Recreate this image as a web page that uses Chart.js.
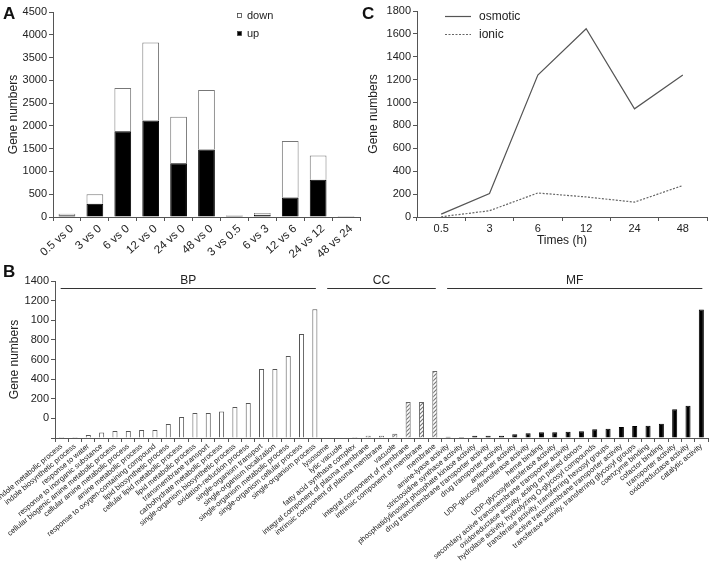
<!DOCTYPE html>
<html><head><meta charset="utf-8">
<script src="https://cdn.jsdelivr.net/npm/chart.js@4/dist/chart.umd.min.js"></script>
<style>
html,body{margin:0;padding:0;background:#fff;width:709px;height:562px;overflow:hidden;position:relative;font-family:"Liberation Sans",Arial,sans-serif;}
canvas{position:absolute;}
.lbl{position:absolute;font-weight:bold;font-size:17px;line-height:1;color:#111;}
</style></head><body>
<canvas id="ca" width="362" height="262" style="left:0;top:0"></canvas>
<canvas id="cc" width="354" height="252" style="left:355px;top:0"></canvas>
<canvas id="cb" width="709" height="300" style="left:0;top:262px"></canvas>
<div class="lbl" style="left:3px;top:5px">A</div>
<div class="lbl" style="left:3px;top:263px">B</div>
<div class="lbl" style="left:362px;top:5px">C</div>
<script>
// ---------- Panel A data ----------
const aCategories = ['0.5 vs 0','3 vs 0','6 vs 0','12 vs 0','24 vs 0','48 vs 0','3 vs 0.5','6 vs 3','12 vs 6','24 vs 12','48 vs 24'];
const aUp   = [40, 290, 1880, 2120, 1180, 1480, 30, 50, 430, 820, 5];
const aDown = [30, 210, 950, 1710, 1020, 1310, 10, 40, 1240, 530, 10];

// ---------- Panel C data ----------
const cTimes   = ['0.5','3','6','12','24','48'];
const cOsmotic = [25, 205, 1240, 1645, 945, 1240];
const cIonic   = [2, 55, 210, 175, 130, 275];

// ---------- Panel B data ----------
const bTerms = [
 'indole metabolic process','indole biosynthetic process','response to water','response to inorganic substance',
 'cellular biogenic amine metabolic process','cellular amine metabolic process','amine metabolic process',
 'response to oxygen-containing compound','lipid biosynthetic process','cellular lipid metabolic process',
 'lipid metabolic process','transmembrane transport','carbohydrate metabolic process',
 'single-organism biosynthetic process','oxidation-reduction process','single-organism transport',
 'single-organism localization','single-organism metabolic process','single-organism cellular process',
 'single-organism process',
 'lysosome','lytic vacuole','fatty acid synthase complex','integral component of plasma membrane',
 'intrinsic component of plasma membrane','vacuole','integral component of membrane',
 'intrinsic component of membrane','membrane',
 'amine-lyase activity','strictosidine synthase activity','phosphatidylinositol phosphate kinase activity',
 'drug transmembrane transporter activity','drug transporter activity','antiporter activity',
 'UDP-glucosyltransferase activity','heme binding','UDP-glycosyltransferase activity',
 'secondary active transmembrane transporter activity','oxidoreductase activity, acting on paired donors',
 'hydrolase activity, hydrolyzing O-glycosyl compounds','transferase activity, transferring hexosyl groups',
 'active transmembrane transporter activity','transferase activity, transferring glycosyl groups',
 'coenzyme binding','cofactor binding','transporter activity','oxidoreductase activity','catalytic activity'
];
const bCounts = [
 10, 10, 30, 57, 71, 71, 82, 82, 143, 214, 255, 255, 271, 316, 357, 704, 704, 836, 1061, 1312,
 5, 5, 10, 24, 24, 44, 367, 367, 683,
 13, 10, 24, 24, 24, 38, 48, 58, 58, 64, 68, 89, 95, 112, 122, 125, 146, 293, 329, 1310
];
const bGroupNames = ['BP','CC','MF'];
const bGroupStart = [0, 20, 29];
const bGroupEnd   = [19, 28, 48];
const bYTickLabels = ['', '0', '200', '400', '600', '800', '100', '1200', '1400'];

// ---------- styling ----------
const FONT = '"Liberation Sans", Arial, sans-serif';
Chart.defaults.font.family = FONT;
Chart.defaults.color = '#222';
const AX = '#555';
const plain = v => String(v);

function hatchPattern(){
  const c = document.createElement('canvas'); c.width = 4; c.height = 4;
  const g = c.getContext('2d');
  g.fillStyle = '#fff'; g.fillRect(0,0,4,4);
  g.strokeStyle = '#777'; g.lineWidth = 1.1;
  g.beginPath();
  g.moveTo(0,4); g.lineTo(4,0);
  g.moveTo(-1,1); g.lineTo(1,-1);
  g.moveTo(3,5); g.lineTo(5,3);
  g.stroke();
  return g.createPattern(c,'repeat');
}

function groupOf(i){
  for (let g = 0; g < bGroupNames.length; g++) if (i >= bGroupStart[g] && i <= bGroupEnd[g]) return g;
  return 0;
}

// ---------- Panel A ----------
const legendA = {
  id:'legendA',
  afterDraw(chart){
    const ctx = chart.ctx;
    const ds = chart.data.datasets.slice().reverse();
    ctx.save();
    ctx.font = '11px ' + FONT;
    ctx.textBaseline = 'middle';
    ds.forEach((d, k) => {
      const y = 16 + k * 18;
      ctx.fillStyle = d.backgroundColor;
      ctx.fillRect(237.5, y - 2.5, 4, 4);
      ctx.strokeStyle = '#444'; ctx.lineWidth = 0.8;
      ctx.strokeRect(237.5, y - 2.5, 4, 4);
      ctx.fillStyle = '#222';
      ctx.fillText(d.label, 247, y);
    });
    ctx.restore();
  }
};

new Chart(document.getElementById('ca'), {
  type:'bar',
  data:{labels:aCategories, datasets:[
    {label:'up', data:aUp, backgroundColor:'#000', borderColor:'#000', borderWidth:1},
    {label:'down', data:aDown, backgroundColor:'#fff', borderColor:'#777', borderWidth:1}
  ]},
  options:{
    responsive:false, animation:false, events:[],
    layout:{padding:{top:12, right:2, left:0, bottom:0}},
    plugins:{legend:{display:false}, tooltip:{enabled:false}},
    datasets:{bar:{categoryPercentage:1, barPercentage:0.6}},
    scales:{
      x:{stacked:true,
         grid:{display:true, drawOnChartArea:false, tickLength:4, color:AX, offset:true},
         border:{color:AX},
         ticks:{font:{size:11.5}, minRotation:42, maxRotation:42, autoSkip:false, padding:1, labelOffset:5},
         afterFit(s){ s.height = 45; s.paddingLeft = 0; s.paddingRight = 0; }},
      y:{stacked:true, min:0, max:4500,
         ticks:{stepSize:500, font:{size:11}, padding:2, callback:plain},
         grid:{drawOnChartArea:false, tickLength:4, color:AX},
         border:{color:AX},
         title:{display:true, text:'Gene numbers', font:{size:12}, padding:{top:6, bottom:0}},
         afterFit(s){ s.width = 53; }}
    }
  },
  plugins:[legendA]
});

// ---------- Panel C ----------
const legendC = {
  id:'legendC',
  afterDraw(chart){
    const ctx = chart.ctx;
    ctx.save();
    ctx.font = '12px ' + FONT;
    ctx.textBaseline = 'middle';
    chart.data.datasets.forEach((d, k) => {
      const y = 16.5 + k * 18;
      ctx.strokeStyle = d.borderColor; ctx.lineWidth = d.borderWidth;
      ctx.setLineDash(d.borderDash || []);
      ctx.beginPath(); ctx.moveTo(90, y); ctx.lineTo(116, y); ctx.stroke();
      ctx.setLineDash([]);
      ctx.fillStyle = '#222';
      ctx.fillText(d.label, 124, y);
    });
    ctx.restore();
  }
};

new Chart(document.getElementById('cc'), {
  type:'line',
  data:{labels:cTimes, datasets:[
    {label:'osmotic', data:cOsmotic, borderColor:'#555', borderWidth:1.2, pointRadius:0, tension:0, fill:false},
    {label:'ionic', data:cIonic, borderColor:'#666', borderWidth:1.2, borderDash:[2,1.5], pointRadius:0, tension:0, fill:false}
  ]},
  options:{
    responsive:false, animation:false, events:[],
    layout:{padding:{top:11, right:2, left:0, bottom:0}},
    plugins:{legend:{display:false}, tooltip:{enabled:false}},
    scales:{
      x:{type:'category', offset:true,
         grid:{display:true, drawOnChartArea:false, tickLength:4, color:AX, offset:true},
         border:{color:AX},
         ticks:{font:{size:11}, maxRotation:0, autoSkip:false, padding:1},
         title:{display:true, text:'Times (h)', font:{size:12}, padding:{top:0, bottom:4}},
         afterFit(s){ s.height = 35; s.paddingLeft = 0; s.paddingRight = 0; }},
      y:{min:0, max:1800,
         ticks:{stepSize:200, font:{size:11}, padding:2, callback:plain},
         grid:{drawOnChartArea:false, tickLength:4, color:AX},
         border:{color:AX},
         title:{display:true, text:'Gene numbers', font:{size:12}, padding:{top:11, bottom:0}},
         afterFit(s){ s.width = 62; }}
    }
  },
  plugins:[legendC]
});

// ---------- Panel B ----------
const hatch = hatchPattern();
const bFill = bCounts.map((v, i) => [ '#fff', hatch, '#000' ][groupOf(i)]);
const bBorder = bCounts.map((v, i) => [ '#555', '#666', '#000' ][groupOf(i)]);

const groupsB = {
  id:'groupsB',
  afterDraw(chart){
    const ctx = chart.ctx, xs = chart.scales.x, top = chart.chartArea.top;
    ctx.save();
    ctx.strokeStyle = '#333'; ctx.lineWidth = 1;
    ctx.fillStyle = '#222';
    ctx.font = '12px ' + FONT;
    ctx.textAlign = 'center'; ctx.textBaseline = 'middle';
    bGroupNames.forEach((name, g) => {
      const x1 = xs.getPixelForValue(bGroupStart[g]) - 1;
      const x2 = xs.getPixelForValue(bGroupEnd[g]) + 1;
      ctx.beginPath(); ctx.moveTo(x1, top + 7.5); ctx.lineTo(x2, top + 7.5); ctx.stroke();
      ctx.fillText(name, (x1 + x2) / 2, top);
    });
    ctx.restore();
  }
};

new Chart(document.getElementById('cb'), {
  type:'bar',
  data:{labels:bTerms, datasets:[
    {label:'Gene numbers', data:bCounts, backgroundColor:bFill, borderColor:bBorder, borderWidth:1}
  ]},
  options:{
    responsive:false, animation:false, events:[],
    layout:{padding:{top:19, right:1, left:0, bottom:0}},
    plugins:{legend:{display:false}, tooltip:{enabled:false}},
    datasets:{bar:{categoryPercentage:1, barPercentage:0.38}},
    scales:{
      x:{grid:{display:true, drawOnChartArea:false, tickLength:4, color:AX, offset:true},
         border:{color:AX},
         ticks:{font:{size:7.5}, minRotation:40, maxRotation:40, autoSkip:false, padding:0},
         afterFit(s){ s.height = 124; s.paddingLeft = 0; s.paddingRight = 0; }},
      y:{min:0, max:1600,
         ticks:{stepSize:200, font:{size:11}, padding:2,
                callback:(v, i) => bYTickLabels[i]},
         grid:{drawOnChartArea:false, tickLength:4, color:AX},
         border:{color:AX},
         title:{display:true, text:'Gene numbers', font:{size:12}, padding:{top:7, bottom:0}},
         afterFit(s){ s.width = 55; }}
    }
  },
  plugins:[groupsB]
});
</script>
</body></html>
